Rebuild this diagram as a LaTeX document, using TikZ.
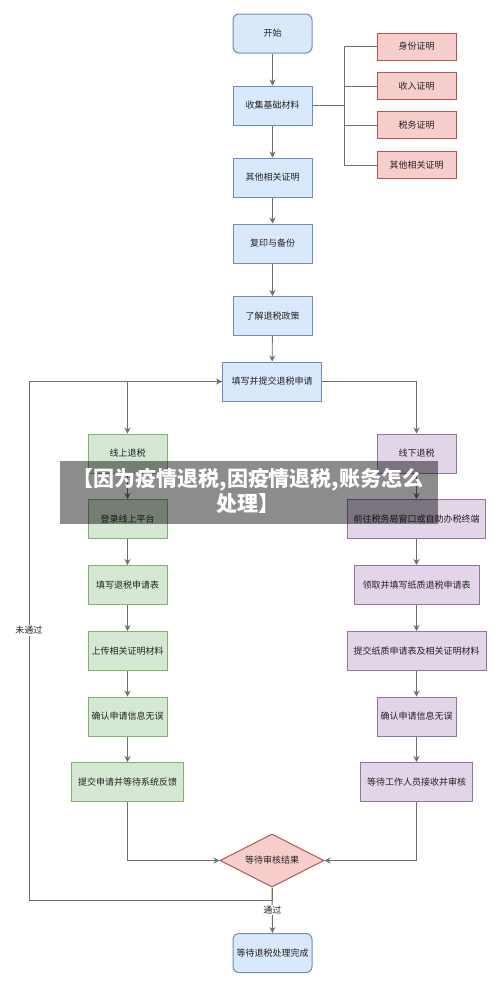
\documentclass[tikz,border=0pt]{standalone}
\usepackage{fontspec}
\newfontfamily\cjk{Noto Sans CJK SC}
\usetikzlibrary{arrows.meta,shapes.geometric}
\definecolor{bfill}{HTML}{DAE8FC}\definecolor{bdraw}{HTML}{6C8EBF}
\definecolor{rfill}{HTML}{F8CECC}\definecolor{rdraw}{HTML}{B85450}
\definecolor{gfill}{HTML}{D5E8D4}\definecolor{gdraw}{HTML}{82B366}
\definecolor{pfill}{HTML}{E1D5E7}\definecolor{pdraw}{HTML}{9673A6}
\definecolor{linec}{HTML}{707070}
\definecolor{txt}{HTML}{222222}
\begin{document}
\begin{tikzpicture}[x=1pt,y=-1pt,
  every node/.style={text=txt, font=\cjk\fontsize{9}{11}\selectfont},
  box/.style={draw, line width=1pt, minimum height=39pt, inner sep=1pt},
  bluebox/.style={box, fill=bfill, draw=bdraw},
  roundbox/.style={bluebox, rounded corners=6pt},
  redbox/.style={draw, line width=1pt, fill=rfill, draw=rdraw, minimum width=79pt, minimum height=27pt, inner sep=1pt},
  greenbox/.style={box, fill=gfill, draw=gdraw},
  purplebox/.style={box, fill=pfill, draw=pdraw},
  arr/.style={draw=linec, line width=0.9pt, -{Stealth[length=6pt,width=6pt,inset=2pt]}},
  ln/.style={draw=linec, line width=0.9pt},
  lbl/.style={fill=white, inner sep=1pt}
]
\useasboundingbox (0,0) rectangle (500,986);
\fill[white] (0,0) rectangle (500,986);

% main column
\node[roundbox, minimum width=79pt] (start) at (272.5,33.5) {开始};
\node[bluebox, minimum width=79pt] (collect) at (272.5,105.5) {收集基础材料};
\node[bluebox, minimum width=79pt] (other) at (272.5,177.5) {其他相关证明};
\node[bluebox, minimum width=79pt] (copy) at (272.5,243.5) {复印与备份};
\node[bluebox, minimum width=79pt] (policy) at (272.5,316) {了解退税政策};
\node[bluebox, minimum width=99pt] (submit) at (272,381.5) {填写并提交退税申请};

% red materials
\node[redbox] (r1) at (416.5,46.5) {身份证明};
\node[redbox] (r2) at (416.5,86) {收入证明};
\node[redbox] (r3) at (416.5,125) {税务证明};
\node[redbox] (r4) at (416.5,165) {其他相关证明};

% online
\node[greenbox, minimum width=79pt] (on1) at (127.5,453.5) {线上退税};
\node[greenbox, minimum width=79pt] (on2) at (127.5,519) {登录线上平台};
\node[greenbox, minimum width=79pt] (on3) at (127.5,585) {填写退税申请表};
\node[greenbox, minimum width=79pt] (on4) at (127.5,651) {上传相关证明材料};
\node[greenbox, minimum width=79pt] (on5) at (127.5,716.5) {确认申请信息无误};
\node[greenbox, minimum width=112pt] (on6) at (127.5,782) {提交申请并等待系统反馈};

% offline
\node[purplebox, minimum width=79pt] (off1) at (416.5,453.5) {线下退税};
\node[purplebox, minimum width=138pt] (off2) at (416.5,519) {前往税务局窗口或自助办税终端};
\node[purplebox, minimum width=125pt] (off3) at (416.5,585) {领取并填写纸质退税申请表};
\node[purplebox, minimum width=139pt] (off4) at (416.5,651) {提交纸质申请表及相关证明材料};
\node[purplebox, minimum width=79pt] (off5) at (416.5,716.5) {确认申请信息无误};
\node[purplebox, minimum width=112pt] (off6) at (416.5,782) {等待工作人员接收并审核};

% decision and end
\node[diamond, draw=rdraw, fill=rfill, line width=1pt, aspect=1.96, minimum width=104pt, minimum height=53pt, inner sep=0pt] (dia) at (272,860.5) {等待审核结果};
\node[roundbox, minimum width=79pt] (done) at (272.5,953) {等待退税处理完成};

% connectors main column
\draw[arr] (start) -- (collect);
\draw[arr] (collect) -- (other);
\draw[arr] (other) -- (copy);
\draw[arr] (copy) -- (policy);
\draw[arr] (policy) -- (submit);

% bracket to materials
\coordinate (bx) at (344,105.5);
\draw[ln] (collect.east) -- (bx);
\draw[ln] (r1.west) -- (r1.west -| bx) -- (r4.west -| bx) -- (r4.west);
\draw[ln] (r2.west) -- (r2.west -| bx);
\draw[ln] (r3.west) -- (r3.west -| bx);

% branches
\draw[arr] (submit.west) -| (on1.north);
\draw[arr] (submit.east) -| (off1.north);
\draw[arr] (on1) -- (on2);
\draw[arr] (on2) -- (on3);
\draw[arr] (on3) -- (on4);
\draw[arr] (on4) -- (on5);
\draw[arr] (on5) -- (on6);
\draw[arr] (off1) -- (off2);
\draw[arr] (off2) -- (off3);
\draw[arr] (off3) -- (off4);
\draw[arr] (off4) -- (off5);
\draw[arr] (off5) -- (off6);
\draw[arr] (on6.south) |- (dia.west);
\draw[arr] (off6.south) |- (dia.east);

% pass / fail
\draw[arr] (dia.south) -- node[lbl] {通过} (done.north);
\coordinate (lp) at (29,900);
\draw[arr] (dia.south) -- (dia.south |- lp) -- (lp) -- node[lbl, pos=0.52] {未通过} (lp |- submit.west) -- (submit.west);

% overlay banner
\fill[black, opacity=0.45] (60,461) rectangle (438,524);
\node[text=white, font=\cjk\bfseries\fontsize{21}{25}\selectfont, align=center] (banner) at (248,491) {【因为疫情退税,因疫情退税,账务怎么\\处理】};
\end{tikzpicture}
\end{document}
